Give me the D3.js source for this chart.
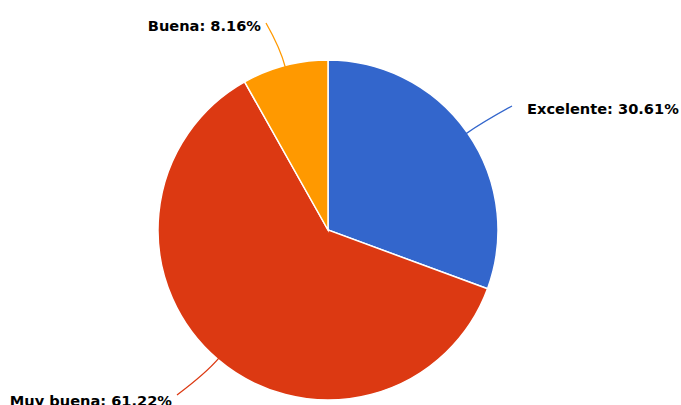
<!DOCTYPE html>
<meta charset="utf-8">
<style>
    body { margin: 0; background: #fff; }
    .slice { stroke: #fff; stroke-width: 1.5px; }
    .connector { fill: none; stroke-width: 1.3px; }
    .label text {
        font: bold 14.6px "DejaVu Sans", Verdana, sans-serif;
        fill: #000;
    }
    .label .halo { stroke: #fff; stroke-width: 3px; stroke-linejoin: round; }
</style>
<svg width="681" height="405"></svg>
<script src="https://d3js.org/d3.v7.min.js"></script>
<script>

    const categories = ["Excelente", "Muy buena", "Buena"];
    const percents = [30.61, 61.22, 8.16];
    const colors = ["#3366cc", "#dc3912", "#ff9900"];

    // label anchor (end of connector), per slice
    const labelPoints = [[512, 106], [177, 395], [266, 23]];
    const labelShift = [3, 6, 3];

    const svg = d3.select("svg"),
        cx = 328, cy = 230, radius = 170;

    const g = svg.append("g").attr("transform", "translate(" + cx + "," + cy + ")");

    const pie = d3.pie().sort(null).value(function(d) { return d; });
    const arc = d3.arc().innerRadius(0).outerRadius(radius);
    const arcs = pie(percents);

    g.selectAll(".slice")
        .data(arcs)
        .enter().append("path")
        .attr("class", "slice")
        .attr("fill", function(d, i) { return colors[i]; })
        .attr("d", arc);

    function polar(a, r) { return [r * Math.sin(a), -r * Math.cos(a)]; }

    arcs.forEach(function(d, i) {
        const mid = (d.startAngle + d.endAngle) / 2;
        const p0 = polar(mid, radius - 2);
        const c = polar(mid, radius + 18);
        const end = [labelPoints[i][0] - cx, labelPoints[i][1] - cy];
        g.append("path")
            .attr("class", "connector")
            .attr("stroke", colors[i])
            .attr("d", "M" + p0 + "Q" + c + " " + end);

        const right = end[0] > 0;
        const lab = g.append("g").attr("class", "label")
            .attr("transform", "translate(" + (end[0] + (right ? 15 : -5)) + "," + (end[1] + labelShift[i]) + ")");
        const txt = categories[i] + ": " + percents[i].toFixed(2) + "%";
        [true, false].forEach(function(halo) {
            lab.append("text")
                .attr("class", halo ? "halo" : null)
                .attr("dy", "0.35em")
                .attr("text-anchor", right ? "start" : "end")
                .text(txt);
        });
    });

</script>
